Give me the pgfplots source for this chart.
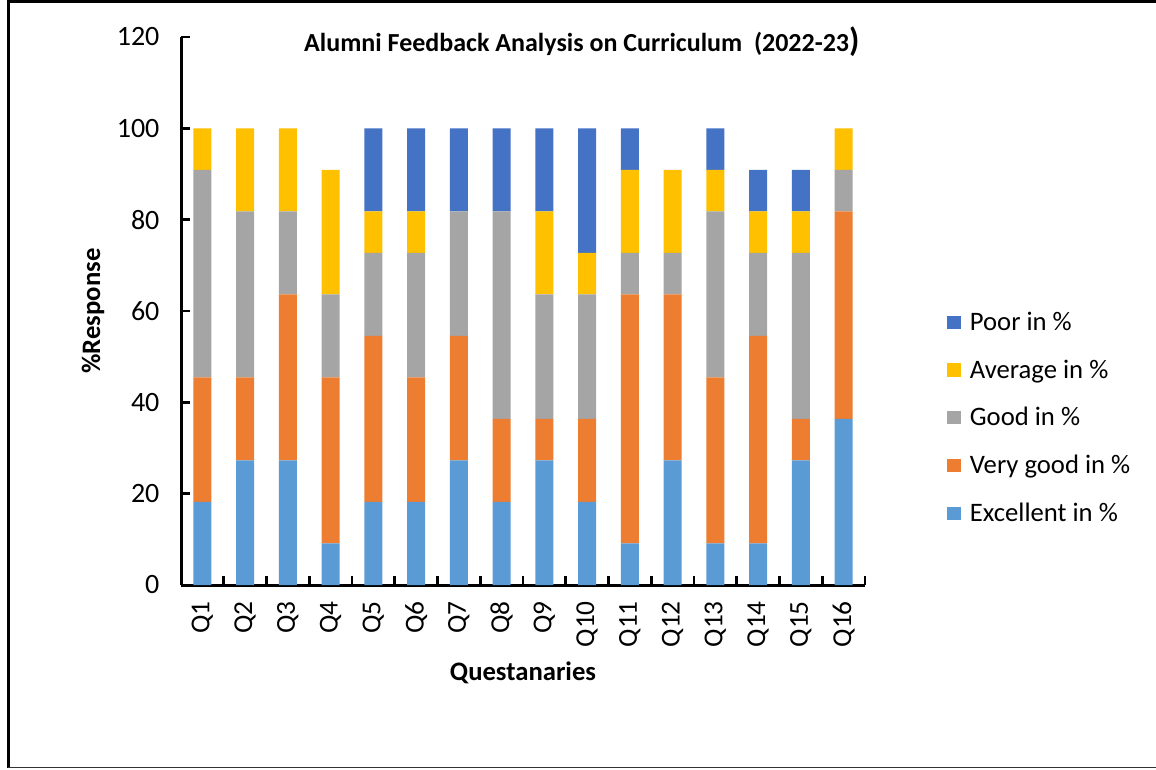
\documentclass[border=0pt]{standalone}
\usepackage{pgfplots}
\pgfplotsset{compat=1.18}
\usepackage{pgfplotstable}
\usepackage{fontspec}
\setmainfont{Carlito}
\definecolor{cExc}{HTML}{5B9BD5}
\definecolor{cVG}{HTML}{ED7D31}
\definecolor{cGood}{HTML}{A5A5A5}
\definecolor{cAvg}{HTML}{FFC000}
\definecolor{cPoor}{HTML}{4472C4}
\pgfplotstableread{
x Exc VG Good Avg Poor
0 18.18 27.27 45.45 9.09 0
1 27.27 18.18 36.36 18.18 0
2 27.27 36.36 18.18 18.18 0
3 9.09 36.36 18.18 27.27 0
4 18.18 36.36 18.18 9.09 18.18
5 18.18 27.27 27.27 9.09 18.18
6 27.27 27.27 27.27 0 18.18
7 18.18 18.18 45.45 0 18.18
8 27.27 9.09 27.27 18.18 18.18
9 18.18 18.18 27.27 9.09 27.27
10 9.09 54.55 9.09 18.18 9.09
11 27.27 36.36 9.09 18.18 0
12 9.09 36.36 36.36 9.09 9.09
13 9.09 45.45 18.18 9.09 9.09
14 27.27 9.09 36.36 9.09 9.09
15 36.36 45.45 9.09 9.09 0
}\datatable
\begin{document}
\begin{tikzpicture}
\path[use as bounding box] (0,0) rectangle (867pt,576.75pt);
\draw[line width=2.25pt] (6pt,0.75pt) -- (6pt,575.25pt) -- (867pt,575.25pt);
\draw[line width=0.9pt, black!80] (6pt,1pt) -- (867pt,1pt);
\begin{axis}[
  at={(135.75pt,138pt)}, anchor=south west,
  scale only axis, width=513pt, height=411pt,
  ybar stacked, bar width=13.5pt,
  xmin=-0.5, xmax=15.5, ymin=0, ymax=120,
  ytick={0,20,...,120},
  xtick={-0.5,0.5,...,15.5},
  x tick label as interval,
  xticklabels={Q1,Q2,Q3,Q4,Q5,Q6,Q7,Q8,Q9,Q10,Q11,Q12,Q13,Q14,Q15,Q16},
  axis lines*=left,
  axis line style={line width=2.25pt, -},
  tick align=inside,
  major tick length=6.5pt,
  x tick style={line width=2pt, black},
  y tick style={line width=2pt, black},
  tick label style={font=\fontsize{21}{25}\selectfont},
  /pgf/number format/assume math mode=true,
  yticklabel style={anchor=east, inner sep=0pt, xshift=-16pt},
  xticklabel style={yshift=-12pt, rotate=90, anchor=east, inner sep=0pt, font=\fontsize{20.5}{25}\selectfont},
  ylabel={\textbf{\%Response}},
  ylabel style={at={(axis description cs:-0.1287,0.5)}, anchor=center, font=\fontsize{20}{24}\selectfont},
  xlabel={\textbf{Questanaries}},
  xlabel style={at={(axis description cs:0.5,-0.1606)}, anchor=center, font=\fontsize{20}{24}\selectfont},
  title={\textbf{Alumni Feedback Analysis on Curriculum\ \ (2022-23{\fontsize{25}{25}\selectfont )}}},
  title style={at={(axis description cs:0.586,0.977)}, anchor=center, font=\fontsize{19.5}{23}\selectfont},
  legend image code/.code={\fill[#1, draw=none] (0pt,-5pt) rectangle (10pt,5pt);},
  reverse legend,
  legend style={at={(axis description cs:1.114,0.305)}, anchor=west, draw=none,
    font=\fontsize{20}{24}\selectfont, row sep=18.5pt,
    nodes={inner sep=1pt, anchor=west},
    /tikz/every odd column/.append style={column sep=6pt}},
  legend cell align=left,
]
\addplot[fill=cExc, draw=none] table[x=x, y=Exc] {\datatable};
\addplot[fill=cVG, draw=none] table[x=x, y=VG] {\datatable};
\addplot[fill=cGood, draw=none] table[x=x, y=Good] {\datatable};
\addplot[fill=cAvg, draw=none] table[x=x, y=Avg] {\datatable};
\addplot[fill=cPoor, draw=none] table[x=x, y=Poor] {\datatable};
\legend{Excellent in \%, Very good in \%, Good in \%, Average in \%, Poor in \%}
\end{axis}
\end{tikzpicture}
\end{document}
